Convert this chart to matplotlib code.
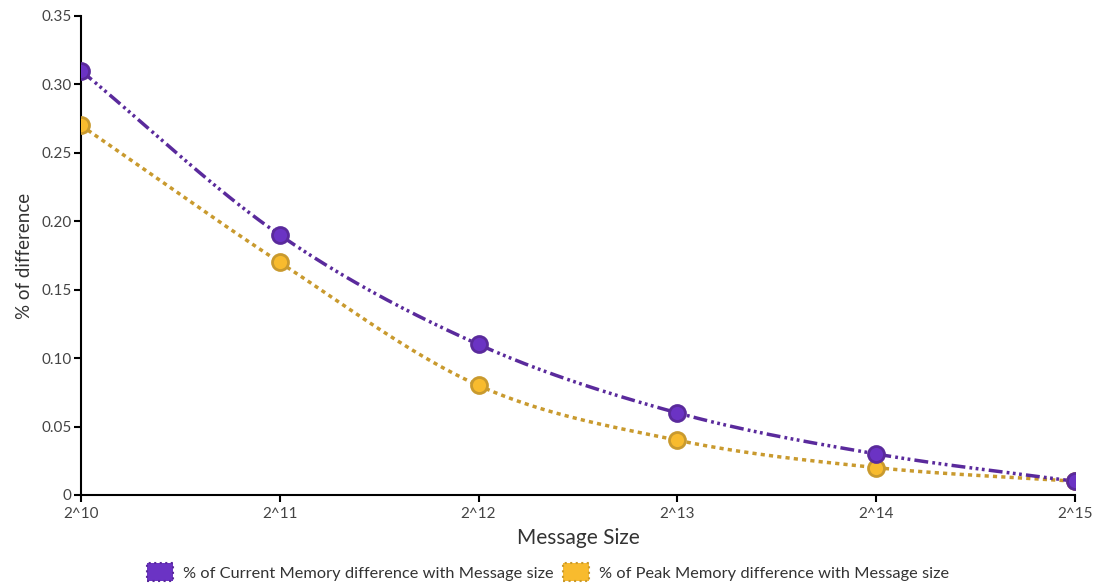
import numpy as np
import matplotlib
matplotlib.use("Agg")
import matplotlib.pyplot as plt
from matplotlib.patches import Patch

plt.rcParams['font.family'] = ['Lato', 'DejaVu Sans']

# data
sizes = ['2^10', '2^11', '2^12', '2^13', '2^14', '2^15']
current_diff = [0.31, 0.19, 0.11, 0.06, 0.03, 0.01]
peak_diff = [0.27, 0.17, 0.08, 0.04, 0.02, 0.01]


# monotone cubic curve through the points (like d3 curveMonotoneX)
def monotone(x, y, n=40):
    x = np.asarray(x, float)
    y = np.asarray(y, float)
    h = np.diff(x)
    d = np.diff(y) / h
    m = np.zeros_like(y)
    m[0], m[-1] = d[0], d[-1]
    for i in range(1, len(y) - 1):
        if d[i - 1] * d[i] <= 0:
            m[i] = 0
        else:
            m[i] = (d[i - 1] * h[i] + d[i] * h[i - 1]) / (h[i] + h[i - 1])
            lim = 3 * min(abs(d[i - 1]), abs(d[i]))
            if abs(m[i]) > lim:
                m[i] = np.sign(m[i]) * lim
    xs, ys = [], []
    for i in range(len(h)):
        t = np.linspace(0, 1, n)
        h00 = 2 * t**3 - 3 * t**2 + 1
        h10 = t**3 - 2 * t**2 + t
        h01 = -2 * t**3 + 3 * t**2
        h11 = t**3 - t**2
        xs.append(x[i] + t * h[i])
        ys.append(h00 * y[i] + h10 * h[i] * m[i] + h01 * y[i + 1] + h11 * h[i] * m[i + 1])
    return np.concatenate(xs), np.concatenate(ys)


fig = plt.figure(figsize=(10.98, 5.83), dpi=100)
ax = fig.add_axes([0.0738, 0.151, 0.905, 0.8216])

x = np.arange(len(sizes))
purple_line = '#5a2a9c'
purple_fill = '#6b33c4'
gold_line = '#c99a2e'
gold_fill = '#f8bb2e'

cx, cy = monotone(x, peak_diff)
ax.plot(cx, cy, color=gold_line, lw=2.5, dashes=(1.2, 1.2), zorder=2)
cx, cy = monotone(x, current_diff)
ax.plot(cx, cy, color=purple_line, lw=2.5,
        dashes=(4, 1.2, 0.8, 1.0, 0.8, 1.0, 0.8, 1.2), zorder=3)

ax.plot(x, peak_diff, 'o', ms=11.5, mfc=gold_fill, mec=gold_line, mew=2, zorder=4)
ax.plot(x, current_diff, 'o', ms=11.5, mfc=purple_fill, mec=purple_line, mew=2, zorder=5)

ax.set_xlim(0, len(sizes) - 1)
ax.set_ylim(0, 0.35)
ax.set_xticks(x)
ax.set_xticklabels(sizes)
yt = [0, 0.05, 0.10, 0.15, 0.20, 0.25, 0.30, 0.35]
ax.set_yticks(yt)
ax.set_yticklabels(['0'] + ['%.2f' % v for v in yt[1:]])
ax.tick_params(labelsize=11, colors='black', labelcolor='#444444', length=5, width=1.5)
ax.tick_params(axis='y', pad=2)
for s in ['top', 'right']:
    ax.spines[s].set_visible(False)
for s in ['left', 'bottom']:
    ax.spines[s].set_linewidth(1.5)
ax.set_xlabel('Message Size', fontsize=15, color='#333333', labelpad=5)
ax.set_ylabel('% of difference', fontsize=13.5, color='#333333', labelpad=6)
ax.patch.set_visible(False)

handles = [Patch(facecolor=purple_fill, edgecolor=purple_line, linestyle=':', lw=1.5),
           Patch(facecolor=gold_fill, edgecolor=gold_line, linestyle=':', lw=1.5)]
labels = ['% of Current Memory difference with Message size',
          '% of Peak Memory difference with Message size']
fig.legend(handles, labels, loc='lower center', bbox_to_anchor=(0.499, -0.022), ncol=2,
           frameon=False, fontsize=11.8, handlelength=1.6, handleheight=1.3,
           handletextpad=0.6, columnspacing=0.6, labelcolor='#333333')

fig.savefig('out.png', dpi=100)
